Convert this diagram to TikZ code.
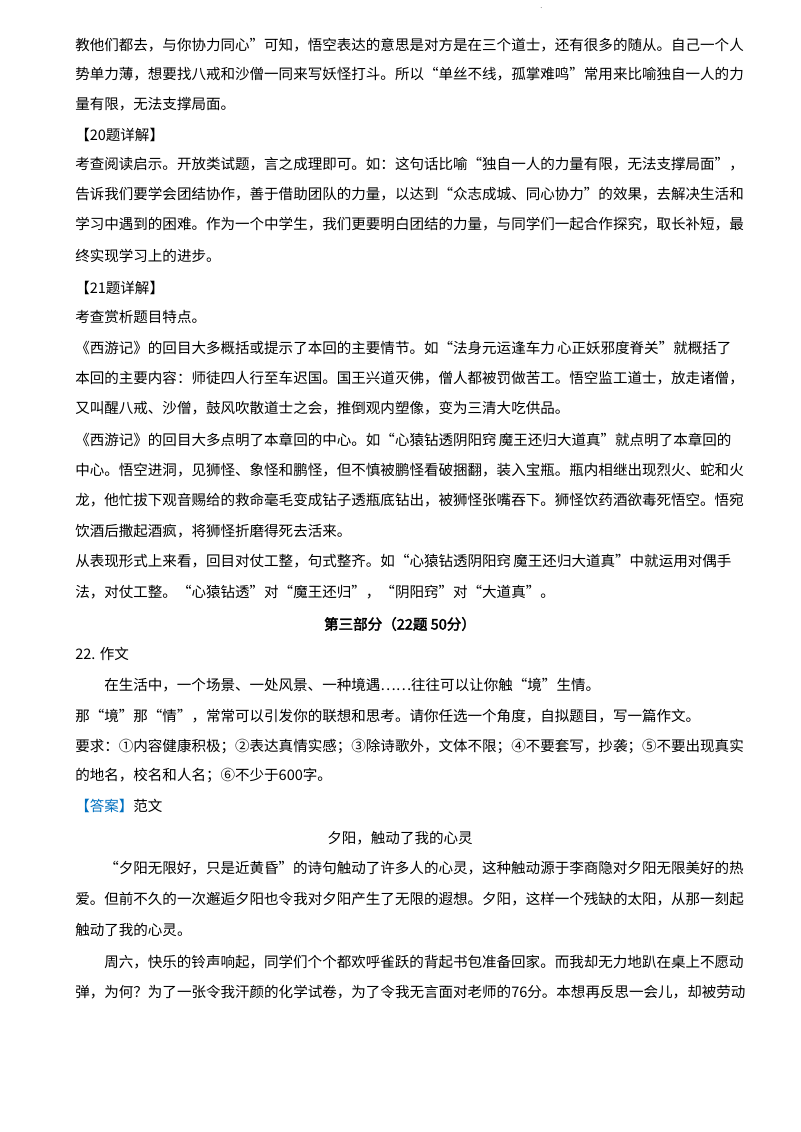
\documentclass[tikz,border=0pt]{standalone}
\usepackage{fontspec}
\setmainfont{Noto Sans CJK SC}[AutoFakeBold=2.5]
\XeTeXlinebreaklocale "zh"
\XeTeXlinebreakskip=0pt plus 4pt minus 0.6pt
\definecolor{ansblue}{RGB}{0,112,192}
\newcommand{\fl}[2][489.75pt]{\hbox to #1{#2}}
\begin{document}
\begin{tikzpicture}[x=0.75pt,y=-0.75pt,
  ln/.style={anchor=west,inner sep=0pt,font=\fontsize{10.9pt}{14pt}\selectfont}]
\useasboundingbox[fill=white] (0,0) rectangle (800,1132);
\node[ln,font=\tiny] (dot) at (540,8) {.};
\node[ln] (l1) at (75,45) {\fl{教他们都去，与你协力同心”可知，悟空表达的意思是对方是在三个道士，还有很多的随从。自己一个人}};
\node[ln] (l2) at (75,74) {\fl{势单力薄，想要找八戒和沙僧一同来写妖怪打斗。所以“单丝不线，孤掌难鸣”常用来比喻独自一人的力}};
\node[ln] (l3) at (75,104) {量有限，无法支撑局面。};
\node[ln] (l4) at (75,135) {【20题详解】};
\node[ln] (l5) at (75,164) {\fl{考查阅读启示。开放类试题，言之成理即可。如：这句话比喻“独自一人的力量有限，无法支撑局面”，}};
\node[ln] (l6) at (75,194) {\fl{告诉我们要学会团结协作，善于借助团队的力量，以达到“众志成城、同心协力”的效果，去解决生活和}};
\node[ln] (l7) at (75,224) {\fl{学习中遇到的困难。作为一个中学生，我们更要明白团结的力量，与同学们一起合作探究，取长补短，最}};
\node[ln] (l8) at (75,256) {终实现学习上的进步。};
\node[ln] (l9) at (75,288) {【21题详解】};
\node[ln] (l10) at (75,317) {考查赏析题目特点。};
\node[ln] (l11) at (75,348) {\fl[484pt]{《西游记》的回目大多概括或提示了本回的主要情节。如“法身元运逢车力\ 心正妖邪度脊关”就概括了}};
\node[ln] (l12) at (75,378) {\fl{本回的主要内容：师徒四人行至车迟国。国王兴道灭佛，僧人都被罚做苦工。悟空监工道士，放走诸僧，}};
\node[ln] (l13) at (75,408) {又叫醒八戒、沙僧，鼓风吹散道士之会，推倒观内塑像，变为三清大吃供品。};
\node[ln] (l14) at (75,440) {\fl[484pt]{《西游记》的回目大多点明了本章回的中心。如“心猿钻透阴阳窍\ 魔王还归大道真”就点明了本章回的}};
\node[ln] (l15) at (75,470) {\fl{中心。悟空进洞，见狮怪、象怪和鹏怪，但不慎被鹏怪看破捆翻，装入宝瓶。瓶内相继出现烈火、蛇和火}};
\node[ln] (l16) at (75,500) {\fl{龙，他忙拔下观音赐给的救命毫毛变成钻子透瓶底钻出，被狮怪张嘴吞下。狮怪饮药酒欲毒死悟空。悟宛}};
\node[ln] (l17) at (75,531) {饮酒后撒起酒疯，将狮怪折磨得死去活来。};
\node[ln] (l18) at (75,561) {\fl[484pt]{从表现形式上来看，回目对仗工整，句式整齐。如“心猿钻透阴阳窍\ 魔王还归大道真”中就运用对偶手}};
\node[ln] (l19) at (75,592) {法，对仗工整。“心猿钻透”对“魔王还归”，“阴阳窍”对“大道真”。};
\node[ln,anchor=center,font=\fontsize{10.9pt}{14pt}\selectfont\bfseries] (h3) at (400,624) {第三部分（22题\ 50分）};
\node[ln] (q22) at (75,654) {22. 作文};
\node[ln] (p1) at (104,685) {在生活中，一个场景、一处风景、一种境遇……往往可以让你触“境”生情。};
\node[ln] (p2) at (75,716) {那“境”那“情”，常常可以引发你的联想和思考。请你任选一个角度，自拟题目，写一篇作文。};
\node[ln] (p3) at (75,746) {\fl{要求：①内容健康积极；②表达真情实感；③除诗歌外，文体不限；④不要套写，抄袭；⑤不要出现真实}};
\node[ln] (p4) at (75,776) {的地名，校名和人名；⑥不少于600字。};
\node[ln] (ans) at (75,806) {\textcolor{ansblue}{【答案】}范文};
\node[ln,anchor=center] (ttl) at (400,838) {夕阳，触动了我的心灵};
\node[ln] (e1) at (104,868) {\fl[468pt]{“夕阳无限好，只是近黄昏”的诗句触动了许多人的心灵，这种触动源于李商隐对夕阳无限美好的热}};
\node[ln] (e2) at (75,899) {\fl{爱。但前不久的一次邂逅夕阳也令我对夕阳产生了无限的遐想。夕阳，这样一个残缺的太阳，从那一刻起}};
\node[ln] (e3) at (75,930) {触动了我的心灵。};
\node[ln] (e4) at (104,962) {\fl[468pt]{周六，快乐的铃声响起，同学们个个都欢呼雀跃的背起书包准备回家。而我却无力地趴在桌上不愿动}};
\node[ln] (e5) at (75,992) {\fl[495pt]{弹，为何？为了一张令我汗颜的化学试卷，为了令我无言面对老师的76分。本想再反思一会儿，却被劳动}};
\end{tikzpicture}
\end{document}
